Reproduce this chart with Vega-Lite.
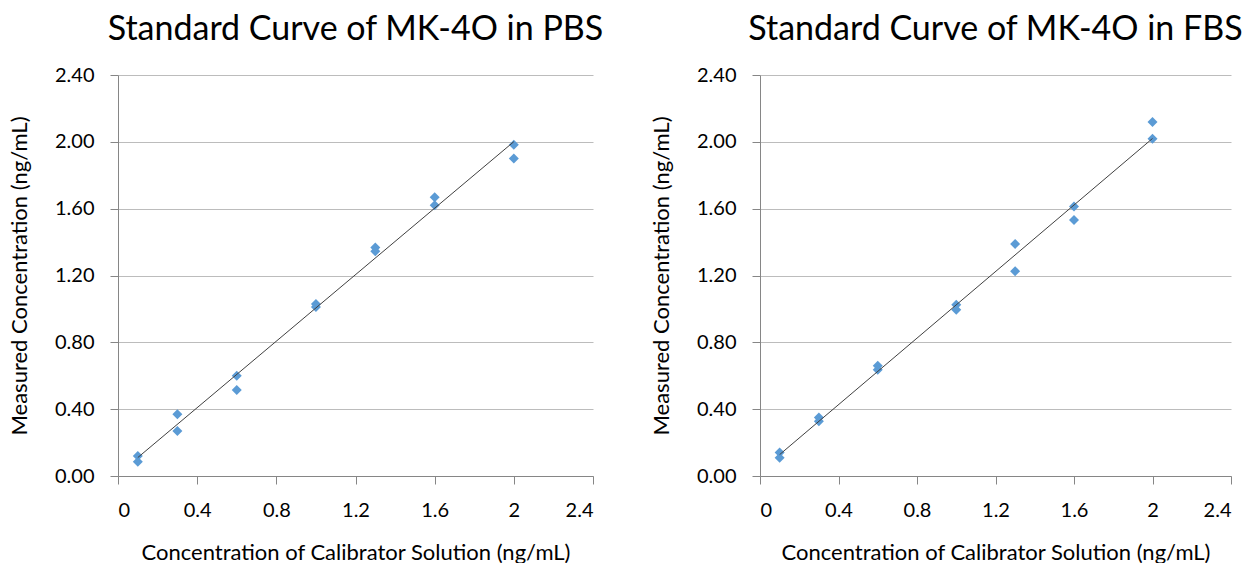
{
  "$schema": "https://vega.github.io/schema/vega-lite/v6.json",
  "background": "white",
  "padding": {"left": 8, "top": 13, "right": 5, "bottom": 0},
  "config": {
    "view": {"stroke": null},
    "font": "Lato",
    "axis": {
      "labelFont": "Lato", "titleFont": "Lato",
      "labelFontSize": 20, "titleFontSize": 22, "titleFontWeight": "normal",
      "labelColor": "#000000", "titleColor": "#000000",
      "domainColor": "#868686", "tickColor": "#868686", "gridColor": "#bcbcbc",
      "domainWidth": 1, "tickWidth": 1, "gridWidth": 1
    },
    "title": {"font": "Lato", "fontSize": 34, "fontWeight": "normal", "color": "#000000", "offset": 18}
  },
  "datasets": {
    "pbs": [
      {"calibrator": 0.1, "measured": 0.12},
      {"calibrator": 0.1, "measured": 0.085},
      {"calibrator": 0.3, "measured": 0.37},
      {"calibrator": 0.3, "measured": 0.27},
      {"calibrator": 0.6, "measured": 0.6},
      {"calibrator": 0.6, "measured": 0.515},
      {"calibrator": 1.0, "measured": 1.03},
      {"calibrator": 1.0, "measured": 1.012},
      {"calibrator": 1.3, "measured": 1.367},
      {"calibrator": 1.3, "measured": 1.345},
      {"calibrator": 1.6, "measured": 1.668},
      {"calibrator": 1.6, "measured": 1.62},
      {"calibrator": 2.0, "measured": 1.982},
      {"calibrator": 2.0, "measured": 1.9}
    ],
    "fbs": [
      {"calibrator": 0.1, "measured": 0.141},
      {"calibrator": 0.1, "measured": 0.109},
      {"calibrator": 0.3, "measured": 0.35},
      {"calibrator": 0.3, "measured": 0.328},
      {"calibrator": 0.6, "measured": 0.66},
      {"calibrator": 0.6, "measured": 0.636},
      {"calibrator": 1.0, "measured": 1.025},
      {"calibrator": 1.0, "measured": 0.995},
      {"calibrator": 1.3, "measured": 1.389},
      {"calibrator": 1.3, "measured": 1.226},
      {"calibrator": 1.6, "measured": 1.613},
      {"calibrator": 1.6, "measured": 1.532},
      {"calibrator": 2.0, "measured": 2.118},
      {"calibrator": 2.0, "measured": 2.019}
    ]
  },
  "spacing": 167,
  "bounds": "flush",
  "hconcat": [
    {
      "width": 475, "height": 401,
      "title": {"text": "Standard Curve of MK-4O in PBS"},
      "data": {"name": "pbs"},
      "layer": [
        {
          "mark": {"type": "point", "shape": "diamond", "filled": true, "size": 100, "color": "#5b9bd5", "opacity": 1},
          "encoding": {
            "x": {"field": "calibrator", "type": "quantitative",
              "scale": {"domain": [0, 2.4], "nice": false, "zero": true},
              "axis": {"title": "Concentration of Calibrator Solution (ng/mL)", "values": [0, 0.4, 0.8, 1.2, 1.6, 2, 2.4], "format": ".1~f", "grid": false, "tickSize": 8, "labelPadding": 16, "titlePadding": 22}},
            "y": {"field": "measured", "type": "quantitative",
              "scale": {"domain": [0, 2.4], "nice": false},
              "axis": {"title": "Measured Concentration (ng/mL)", "values": [0, 0.4, 0.8, 1.2, 1.6, 2, 2.4], "format": ".2f", "grid": true, "tickSize": 8, "labelPadding": 16, "titlePadding": 23}}
          }
        },
        {
          "transform": [{"regression": "measured", "on": "calibrator"}],
          "mark": {"type": "line", "color": "#404040", "strokeWidth": 1},
          "encoding": {
            "x": {"field": "calibrator", "type": "quantitative"},
            "y": {"field": "measured", "type": "quantitative"}
          }
        }
      ]
    },
    {
      "width": 471, "height": 401,
      "title": {"text": "Standard Curve of MK-4O in FBS"},
      "data": {"name": "fbs"},
      "layer": [
        {
          "mark": {"type": "point", "shape": "diamond", "filled": true, "size": 100, "color": "#5b9bd5", "opacity": 1},
          "encoding": {
            "x": {"field": "calibrator", "type": "quantitative",
              "scale": {"domain": [0, 2.4], "nice": false, "zero": true},
              "axis": {"title": "Concentration of Calibrator Solution (ng/mL)", "values": [0, 0.4, 0.8, 1.2, 1.6, 2, 2.4], "format": ".1~f", "grid": false, "tickSize": 8, "labelPadding": 16, "titlePadding": 22}},
            "y": {"field": "measured", "type": "quantitative",
              "scale": {"domain": [0, 2.4], "nice": false},
              "axis": {"title": "Measured Concentration (ng/mL)", "values": [0, 0.4, 0.8, 1.2, 1.6, 2, 2.4], "format": ".2f", "grid": true, "tickSize": 8, "labelPadding": 16, "titlePadding": 23}}
          }
        },
        {
          "transform": [{"regression": "measured", "on": "calibrator"}],
          "mark": {"type": "line", "color": "#404040", "strokeWidth": 1},
          "encoding": {
            "x": {"field": "calibrator", "type": "quantitative"},
            "y": {"field": "measured", "type": "quantitative"}
          }
        }
      ]
    }
  ]
}
